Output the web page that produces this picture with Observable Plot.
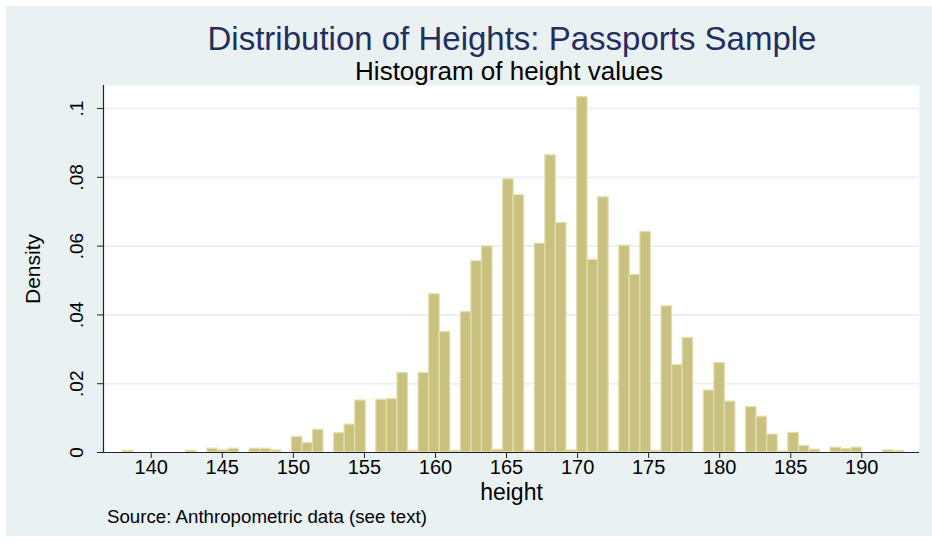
<!DOCTYPE html>
<html>
<head>
<meta charset="utf-8">
<script src="https://cdn.jsdelivr.net/npm/d3@7"></script>
<script src="https://cdn.jsdelivr.net/npm/@observablehq/plot@0.6"></script>
<style>
  html, body { margin: 0; padding: 0; background: #ffffff; }
  #wrap { position: relative; width: 932px; height: 542px; overflow: hidden; font-family: "Liberation Sans", Arial, Helvetica, sans-serif; }
  #region { position: absolute; left: 6px; top: 6px; width: 926px; height: 530px; background: #e9f1f3; }
  #chart { position: absolute; left: 0; top: 0; }
  .t { position: absolute; white-space: nowrap; line-height: 1; }
  #title { left: 512px; top: 22px; font-size: 33px; color: #1f2f5f; transform: translateX(-50%); }
  #subtitle { left: 509px; top: 58px; font-size: 26px; color: #000; transform: translateX(-50%); }
  #caption { left: 107px; top: 508px; font-size: 18.7px; color: #000; }
</style>
</head>
<body>
<div id="wrap">
  <div id="region"></div>
  <div id="chart"></div>
  <div class="t" id="title">Distribution of Heights: Passports Sample</div>
  <div class="t" id="subtitle">Histogram of height values</div>
  <div class="t" id="caption">Source: Anthropometric data (see text)</div>
</div>
<script>
// Histogram bins: first bin starts at 138 cm, 74 equal bins up to 193 cm
const binStart = 138;
const binCount = 74;
const binWidth = 55 / binCount;

// Density of each bin (left to right)
const densities = [
  0.0005, 0, 0, 0, 0, 0, 0.0005, 0, 0.0011, 0.0006,
  0.0011, 0, 0.0011, 0.0011, 0.0006, 0, 0.0045, 0.0027, 0.0066, 0,
  0.0056, 0.0081, 0.0151, 0, 0.0153, 0.0155, 0.0231, 0.0005, 0.0231, 0.0460,
  0.0350, 0.0005, 0.0408, 0.0556, 0.0599, 0.0008, 0.0794, 0.0748, 0.0005, 0.0607,
  0.0864, 0.0667, 0.0006, 0.1033, 0.0560, 0.0742, 0.0004, 0.0601, 0.0516, 0.0641,
  0.0005, 0.0425, 0.0254, 0.0333, 0, 0.0180, 0.0260, 0.0148, 0, 0.0132,
  0.0104, 0.0052, 0.0003, 0.0057, 0.0019, 0.0008, 0, 0.0014, 0.0010, 0.0014,
  0, 0, 0.0006, 0.0004
];

const xTicks = [140, 145, 150, 155, 160, 165, 170, 175, 180, 185, 190];
const yTicks = [0, 0.02, 0.04, 0.06, 0.08, 0.1];
const yTickLabels = ["0", ".02", ".04", ".06", ".08", ".1"];

const bins = densities.map((d, i) => ({
  x1: binStart + i * binWidth,
  x2: binStart + (i + 1) * binWidth,
  density: d
})).filter(b => b.density > 0);

const xDomain = [136.64, 194.06];
const yDomain = [0, 0.1067];

const chart = Plot.plot({
  width: 932,
  height: 542,
  marginLeft: 103,
  marginRight: 13,
  marginTop: 85,
  marginBottom: 90,
  style: { background: "transparent", fontFamily: "'Liberation Sans', Arial, Helvetica, sans-serif", color: "#000", overflow: "visible" },
  x: { domain: xDomain, axis: null },
  y: { domain: yDomain, axis: null },
  marks: [
    Plot.frame({ fill: "white", stroke: null }),
    Plot.ruleY(yTicks.slice(1), { stroke: "#e8f0f2", strokeWidth: 1.6 }),
    Plot.rectY(bins, {
      x1: "x1", x2: "x2", y: "density",
      fill: "#c9c17f", stroke: "#e4dfae", strokeWidth: 1.2
    }),
    Plot.ruleY([0], { stroke: "#222", strokeWidth: 1.2 }),
    Plot.ruleX([xDomain[0]], { stroke: "#222", strokeWidth: 1.2 }),
    Plot.axisX({ ticks: xTicks, tickSize: 6, tickPadding: 1, fontSize: 20, label: null, stroke: "#222", tickFormat: d => String(d) }),
    Plot.axisY({ ticks: yTicks, tickSize: 6, tickFormat: () => "", label: null, stroke: "#222" }),
    Plot.text(yTicks, {
      y: d => d, frameAnchor: "left", dx: -27, rotate: -90,
      text: (d, i) => yTickLabels[i], fontSize: 19, fill: "#000", textAnchor: "middle"
    }),
    Plot.text(["height"], { frameAnchor: "bottom", dy: 40, lineAnchor: "middle", textAnchor: "middle", fontSize: 23, fill: "#000" }),
    Plot.text(["Density"], { frameAnchor: "left", dx: -70, rotate: -90, textAnchor: "middle", fontSize: 21, fill: "#000" })
  ]
});

document.getElementById("chart").appendChild(chart);
</script>
</body>
</html>
